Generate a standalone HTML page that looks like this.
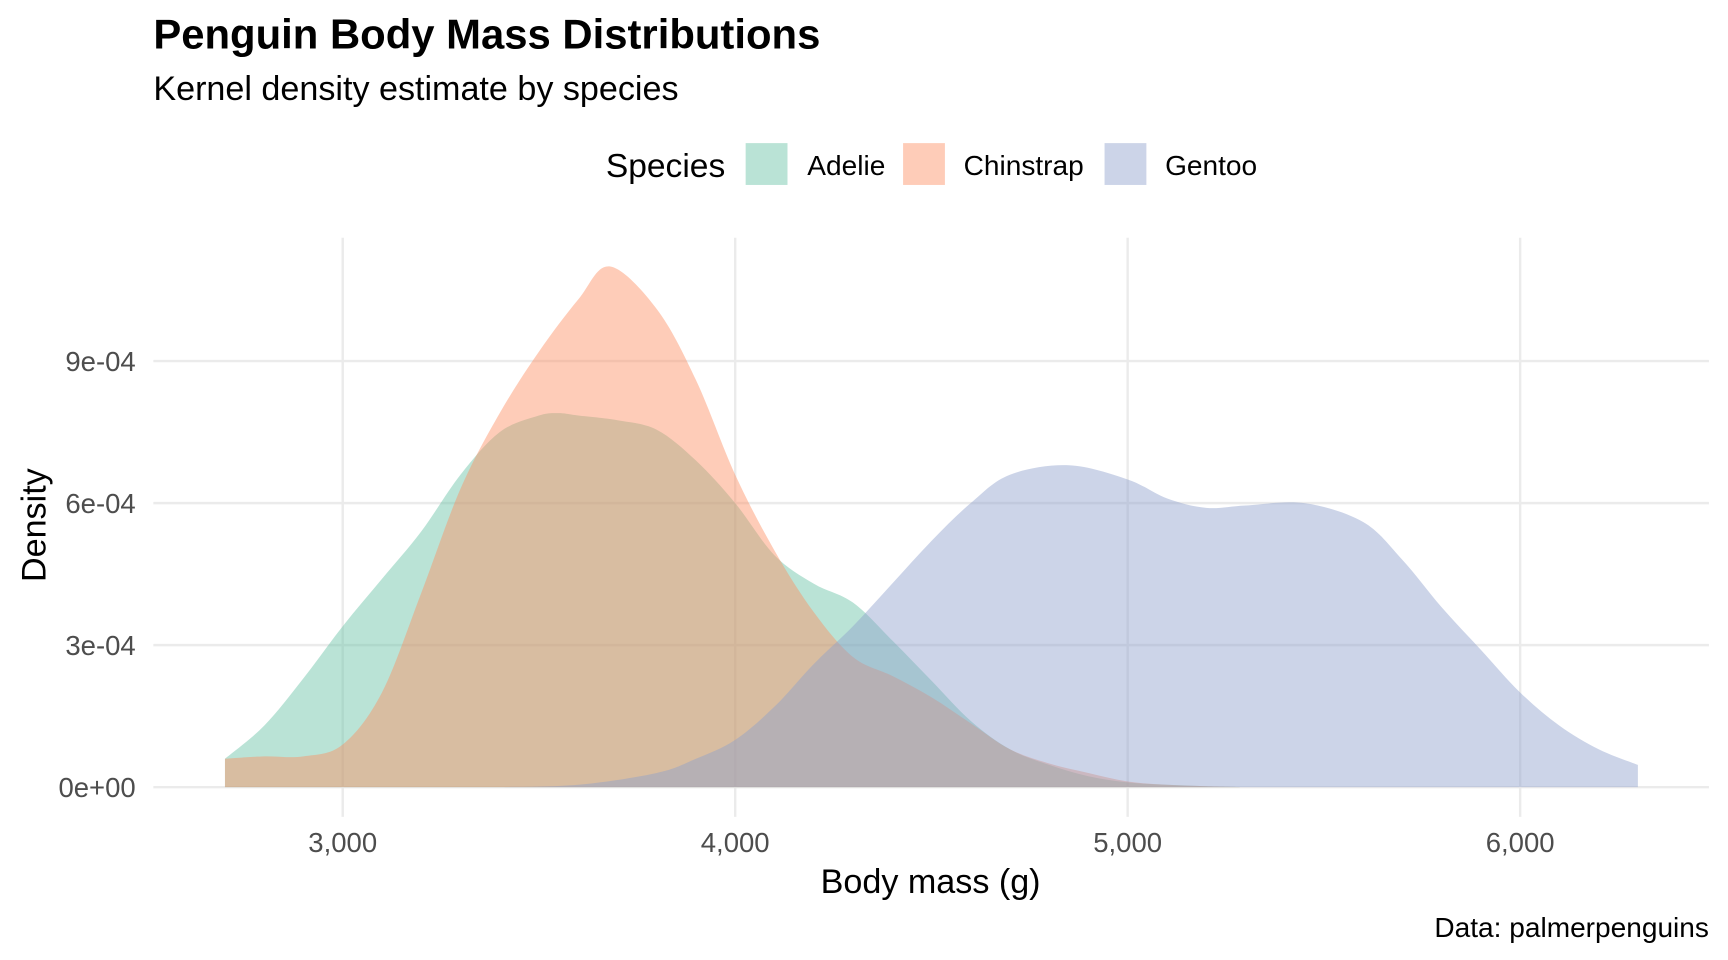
<!DOCTYPE html>
<html><head><meta charset="utf-8"><style>
html,body{margin:0;padding:0;background:#fff;}
svg{display:block;font-family:"Liberation Sans",Arial,sans-serif;}
</style></head><body>
<svg id="chart" width="1728" height="960" viewBox="0 0 1569 872">
<text x="139" y="44" font-size="38" font-weight="bold" fill="#000">Penguin Body Mass Distributions</text>
<text x="139" y="91" font-size="31" fill="#000">Kernel density estimate by species</text>
<g>
<text x="550" y="161" font-size="30.5" fill="#000">Species</text>
<g><rect x="677" y="130" width="38" height="38" fill="#66c2a5" fill-opacity="0.45"/><text x="733" y="159" font-size="25.5">Adelie</text></g>
<g><rect x="820" y="130" width="38" height="38" fill="#fc8d62" fill-opacity="0.45"/><text x="875" y="159" font-size="25.5">Chinstrap</text></g>
<g><rect x="1003" y="130" width="38" height="38" fill="#8da0cb" fill-opacity="0.45"/><text x="1058" y="159" font-size="25.5">Gentoo</text></g>
</g>
<g id="grid"></g>
<g id="areas"></g>
<g id="axes"></g>
<text x="845" y="811" font-size="31" text-anchor="middle" fill="#000">Body mass (g)</text>
<text transform="translate(41,477) rotate(-90)" font-size="31" text-anchor="middle" fill="#000">Density</text>
<text x="1552" y="851" font-size="25.5" text-anchor="end" fill="#000">Data: palmerpenguins</text>
</svg>
<script>
const xTicks = [3000, 4000, 5000, 6000];
const xTickLabels = ["3,000", "4,000", "5,000", "6,000"];
const yTicks = [0, 3e-4, 6e-4, 9e-4];
const yTickLabels = ["0e+00", "3e-04", "6e-04", "9e-04"];
const species = ["Adelie", "Chinstrap", "Gentoo"];
const adelieMass = [2700,2800,2900,3000,3100,3200,3300,3400,3500,3550,3600,3700,3800,3900,4000,4100,4200,4300,4400,4500,4600,4700,4800,4900,5000,5100,5200,5300];
const adelieDens = [0.6,1.3,2.3,3.4,4.4,5.4,6.6,7.5,7.85,7.9,7.85,7.75,7.55,6.9,6.0,4.9,4.3,3.9,3.1,2.25,1.4,0.8,0.47,0.23,0.1,0.05,0.02,0];
const chinMass = [2700,2800,2900,3000,3100,3200,3300,3400,3500,3600,3680,3800,3900,4000,4100,4200,4300,4400,4500,4600,4700,4800,4900,5000,5100,5200,5300];
const chinDens = [0.6,0.65,0.65,0.9,2.0,4.1,6.3,7.9,9.2,10.3,11.0,10.1,8.6,6.6,5.0,3.7,2.75,2.35,1.9,1.35,0.8,0.5,0.3,0.12,0.05,0.02,0];
const gentooMass = [3400,3600,3800,3900,4000,4100,4200,4300,4400,4500,4600,4700,4850,5000,5100,5200,5300,5450,5600,5700,5800,5900,6000,6100,6200,6300];
const gentooDens = [0,0.05,0.3,0.6,1.0,1.7,2.6,3.4,4.3,5.2,6.0,6.6,6.8,6.5,6.1,5.9,5.95,6.0,5.6,4.8,3.8,2.9,2.0,1.3,0.8,0.47];

const NS="http://www.w3.org/2000/svg";
const xS = v => 311 + (v-3000)*0.3565;
const yS = v => 715 - v*430000;
const grid=document.getElementById('grid'), areas=document.getElementById('areas'), axes=document.getElementById('axes');
function mk(tag, attrs, parent){const e=document.createElementNS(NS,tag);for(const k in attrs)e.setAttribute(k,attrs[k]);parent.appendChild(e);return e;}
xTicks.forEach((t,i)=>{
  const l=mk('line',{x1:xS(t),x2:xS(t),y1:216,y2:742,stroke:'#ebebeb','stroke-width':2.2},grid);
  
  
  const tx=mk('text',{x:xS(t),y:774,'font-size':25,'text-anchor':'middle',fill:'#4d4d4d'},axes);
  tx.textContent=xTickLabels[i];
  
  
});
yTicks.forEach((t,i)=>{
  const l=mk('line',{x1:139,x2:1552,y1:yS(t),y2:yS(t),stroke:'#ebebeb','stroke-width':2.2},grid);
  
  
  const tx=mk('text',{x:123,y:yS(t)+9,'font-size':25,'text-anchor':'end',fill:'#4d4d4d'},axes);
  tx.textContent=yTickLabels[i];
  
  
});
function smooth(pts){
  let d=`M${pts[0][0]},${pts[0][1]}`;
  for(let i=0;i<pts.length-1;i++){
    const p0=pts[i-1]||pts[i],p1=pts[i],p2=pts[i+1],p3=pts[i+2]||p2;
    const c1=[p1[0]+(p2[0]-p0[0])/6,p1[1]+(p2[1]-p0[1])/6];
    const c2=[p2[0]-(p3[0]-p1[0])/6,p2[1]-(p3[1]-p1[1])/6];
    d+=` C${c1[0]},${c1[1]} ${c2[0]},${c2[1]} ${p2[0]},${p2[1]}`;
  }
  return d;
}
function area(mass,dens,color,name){
  const pts=mass.map((m,i)=>[xS(m),yS(dens[i]*1e-4)]);
  const d=`M${xS(mass[0])},${yS(0)} L`+smooth(pts).slice(1)+` L${xS(mass[mass.length-1])},${yS(0)} Z`;
  const p=mk('path',{d:d,fill:color,'fill-opacity':0.45},areas);
  
  
}
area(adelieMass,adelieDens,'#66c2a5','area-adelie');
area(chinMass,chinDens,'#fc8d62','area-chinstrap');
area(gentooMass,gentooDens,'#8da0cb','area-gentoo');
</script>
</body></html>
